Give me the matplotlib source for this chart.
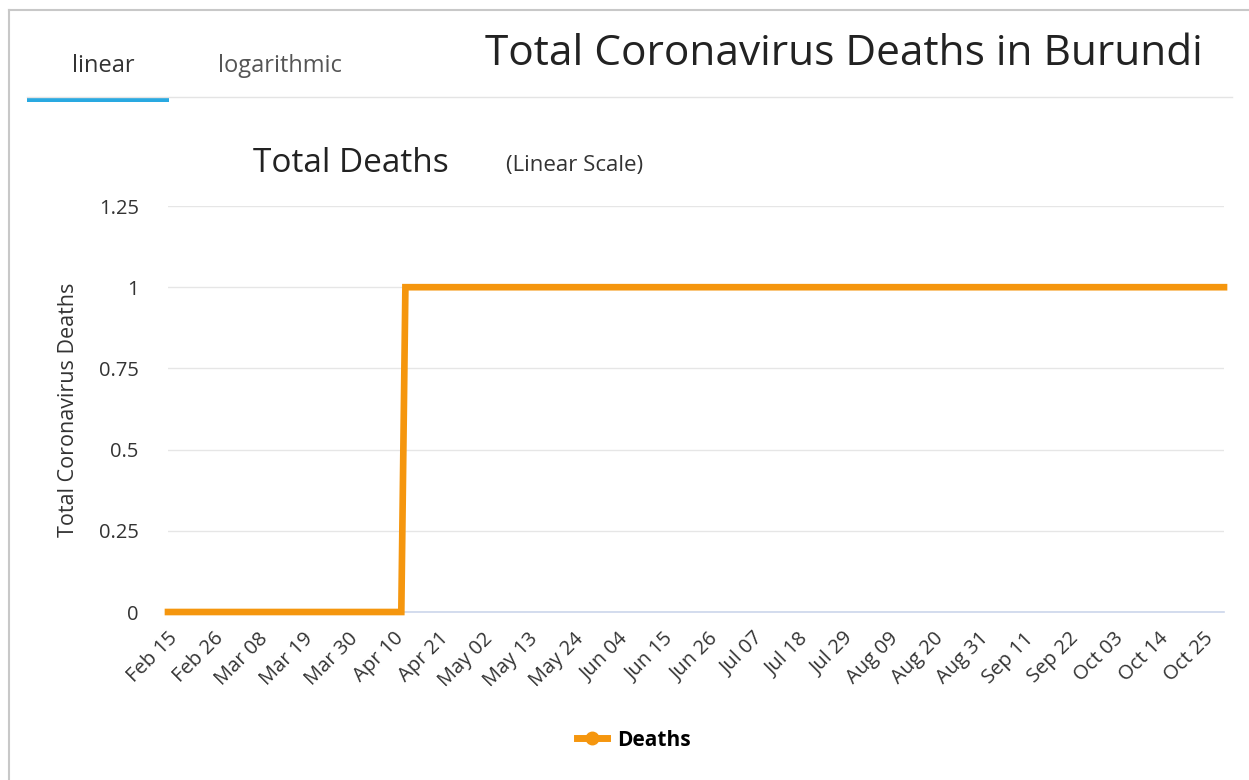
import matplotlib
matplotlib.use("Agg")
import matplotlib.pyplot as plt
import matplotlib.dates as mdates
from matplotlib.lines import Line2D
from matplotlib.patches import Rectangle
import pandas as pd

plt.rcParams["font.family"] = ["Open Sans", "DejaVu Sans"]

# ── Data ─────────────────────────────────────────────────────────────────────
start_date = "2020-02-15"
end_date = "2020-10-30"
dates = pd.date_range(start_date, end_date, freq="D")
# 0 deaths through Apr 12, then 1 death from Apr 13 on
deaths = [0] * 58 + [1] * 201

y_ticks = [0, 0.25, 0.5, 0.75, 1, 1.25]
y_tick_labels = ["0", "0.25", "0.5", "0.75", "1", "1.25"]
x_tick_dates = pd.date_range(start_date, "2020-10-25", freq="11D")

ORANGE = "#f5960e"
W, H = 1249, 780

fig = plt.figure(figsize=(W / 100, H / 100), dpi=100)


def fx(px):
    return px / W


def fy(py):
    return 1 - py / H


# ── Frame + tab header ───────────────────────────────────────────────────────
fig.add_artist(Line2D([fx(9), fx(1249)], [fy(10), fy(10)], color="#c8c8c8", lw=1.5))
fig.add_artist(Line2D([fx(9), fx(9)], [fy(10), fy(780)], color="#c8c8c8", lw=1.5))
fig.add_artist(Line2D([fx(27), fx(1232)], [fy(97), fy(97)], color="#e4e4e4", lw=1))
fig.add_artist(Rectangle((fx(27), fy(102)), fx(142), 4 / H, color="#29a9e1", lw=0))

fig.text(fx(103), fy(66), "linear", fontsize=17, color="#333333", ha="center", va="center")
fig.text(fx(280), fy(66), "logarithmic", fontsize=17, color="#555555", ha="center", va="center")
fig.text(fx(1203), fy(54), "Total Coronavirus Deaths in Burundi", fontsize=30.5,
         color="#222222", ha="right", va="center")

fig.text(fx(253), fy(163), "Total Deaths", fontsize=24, color="#222222", ha="left", va="center")
fig.text(fx(506), fy(166), "(Linear Scale)", fontsize=16, color="#333333", ha="left", va="center")

# ── Chart ────────────────────────────────────────────────────────────────────
ax = fig.add_axes([fx(168), fy(612), fx(1224 - 168), (612 - 206) / H])
ax.plot(dates, deaths, color=ORANGE, lw=4.8, solid_joinstyle="miter",
        clip_on=False, zorder=5)

ax.set_ylim(0, 1.25)
ax.set_xlim(dates[0], dates[-1])
ax.set_yticks(y_ticks)
ax.set_yticklabels(y_tick_labels)
ax.grid(axis="y", color="#e6e6e6", lw=1)
ax.set_axisbelow(True)

ax.set_xticks(x_tick_dates)
ax.xaxis.set_major_formatter(mdates.DateFormatter("%b %d"))
for lbl in ax.get_xticklabels():
    lbl.set_rotation(45)
    lbl.set_ha("right")
    lbl.set_rotation_mode("anchor")

ax.tick_params(axis="x", length=0, pad=12, labelsize=14.5, labelcolor="#333333")
ax.tick_params(axis="y", length=0, pad=21, labelsize=14.5, labelcolor="#333333")

for side in ("top", "right", "left"):
    ax.spines[side].set_visible(False)
ax.spines["bottom"].set_color("#ccd6eb")
ax.spines["bottom"].set_linewidth(1.2)

fig.text(fx(68), fy(410), "Total Coronavirus Deaths", rotation=90, fontsize=15.5,
         color="#333333", ha="center", va="center")

# legend
handle = Line2D([], [], color=ORANGE, lw=5, marker="o", markersize=9)
fig.legend([handle], ["Deaths"], loc="center", bbox_to_anchor=(fx(634), fy(740)),
           frameon=False, prop={"weight": "bold", "size": 15}, handlelength=1.4,
           handletextpad=0.5)

plt.savefig("out.png", dpi=100)
